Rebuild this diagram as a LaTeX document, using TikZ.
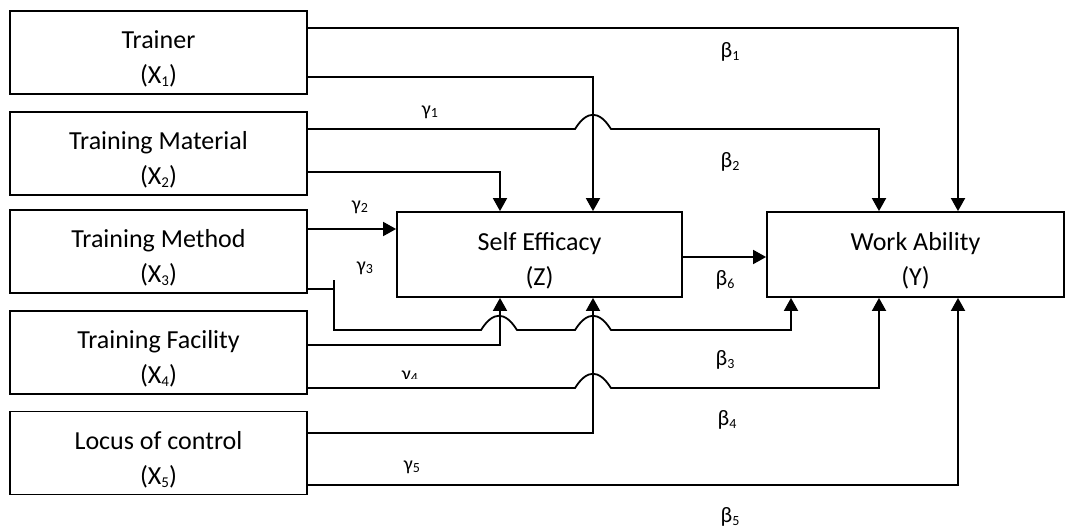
\documentclass[tikz,border=0pt]{standalone}
\usepackage{fontspec}
\setmainfont{Carlito}
\usetikzlibrary{arrows.meta,calc}
\newcommand{\mysub}[1]{\raisebox{-0.12em}{\fontsize{15}{15}\selectfont #1}}
\newcommand{\lsub}[1]{\raisebox{-0.12em}{\fontsize{14}{14}\selectfont #1}}
\newcommand{\topstrut}{\rule{0pt}{31pt}}
\begin{document}
\begin{tikzpicture}[x=1pt,y=-1pt,
  box/.style={draw,line width=1.8pt,inner sep=0pt,align=center,font=\fontsize{26}{35}\selectfont},
  lbox/.style={box,minimum width=297pt,minimum height=83pt},
  conn/.style={line width=1.8pt},
  arr/.style={conn,-{Triangle[length=13pt,width=14pt]}},
  blab/.style={font=\fontsize{22}{22}\selectfont,inner sep=0pt},
  glab/.style={font=\fontsize{20}{20}\selectfont,inner sep=0pt}]
\useasboundingbox (0,0) rectangle (1068,528);
% boxes
\node[lbox] (x1) at (158.5,52.5) {\topstrut Trainer\\(X\mysub{1})};
\node[lbox] (x2) at (158.5,153.5) {\topstrut Training Material\\(X\mysub{2})};
\node[lbox] (x3) at (158.5,251.5) {\topstrut Training Method\\(X\mysub{3})};
\node[lbox] (x4) at (158.5,352.5) {\topstrut Training Facility\\(X\mysub{4})};
\node[lbox] (x5) at (158.5,453) {\topstrut Locus of control\\(X\mysub{5})};
\node[box,minimum width=285pt,minimum height=85pt] (se) at (539.5,254.5) {\topstrut Self Efficacy\\(Z)};
\node[box,minimum width=297pt,minimum height=85pt] (wa) at (915.5,254.5) {\topstrut Work Ability\\(Y)};
% labels
\node[blab] (b1) at (730,52) {β\lsub{1}};
\node[blab] (b2) at (730,162) {β\lsub{2}};
\node[blab] (b3) at (725,360) {β\lsub{3}};
\node[blab] (b4) at (727,420) {β\lsub{4}};
\node[blab] (b5) at (730,517) {β\lsub{5}};
\node[blab] (b6) at (725,280) {β\lsub{6}};
\node[glab] (g1) at (430,112) {γ\lsub{1}};
\node[glab] (g2) at (360,207) {γ\lsub{2}};
\node[glab] (g3) at (365,268) {γ\lsub{3}};
\node[glab] (g4) at (410,377) {γ\lsub{4}};
\node[glab] (g5) at (412,467) {γ\lsub{5}};
\fill[white] (375,379) rectangle (449,388);
% connectors
\draw[arr] (x1.east |- 0,28) -| (wa.north -| 958,0);
\draw[arr] (x1.east |- 0,77) -| (se.north -| 593,0);
\draw[arr] (x2.east |- 0,129) -- (575,129) .. controls (587,110) and (599,110) .. (611,129) -| (wa.north -| 879,0);
\draw[arr] (x2.east |- 0,172) -| (se.north -| 500,0);
\draw[arr] (x3.east |- 0,229) -- (se.west |- 0,229);
\draw[conn] (x3.east |- 0,289) -- (334,289);
\draw[arr] (334,280) -- (334,330) -- (481,330) .. controls (493,311) and (505,311) .. (517,330) -- (575,330) .. controls (587,311) and (599,311) .. (611,330) -| (wa.south -| 791,0);
\draw[arr] (x4.east |- 0,345) -| (se.south -| 500,0);
\draw[arr] (x4.east |- 0,388) -- (575,388) .. controls (587,369) and (599,369) .. (611,388) -| (wa.south -| 879,0);
\draw[arr] (x5.east |- 0,433) -| (se.south -| 593,0);
\draw[arr] (x5.east |- 0,485) -| (wa.south -| 958,0);
\draw[arr] (se.east |- 0,257) -- (wa.west |- 0,257);
\end{tikzpicture}
\end{document}
